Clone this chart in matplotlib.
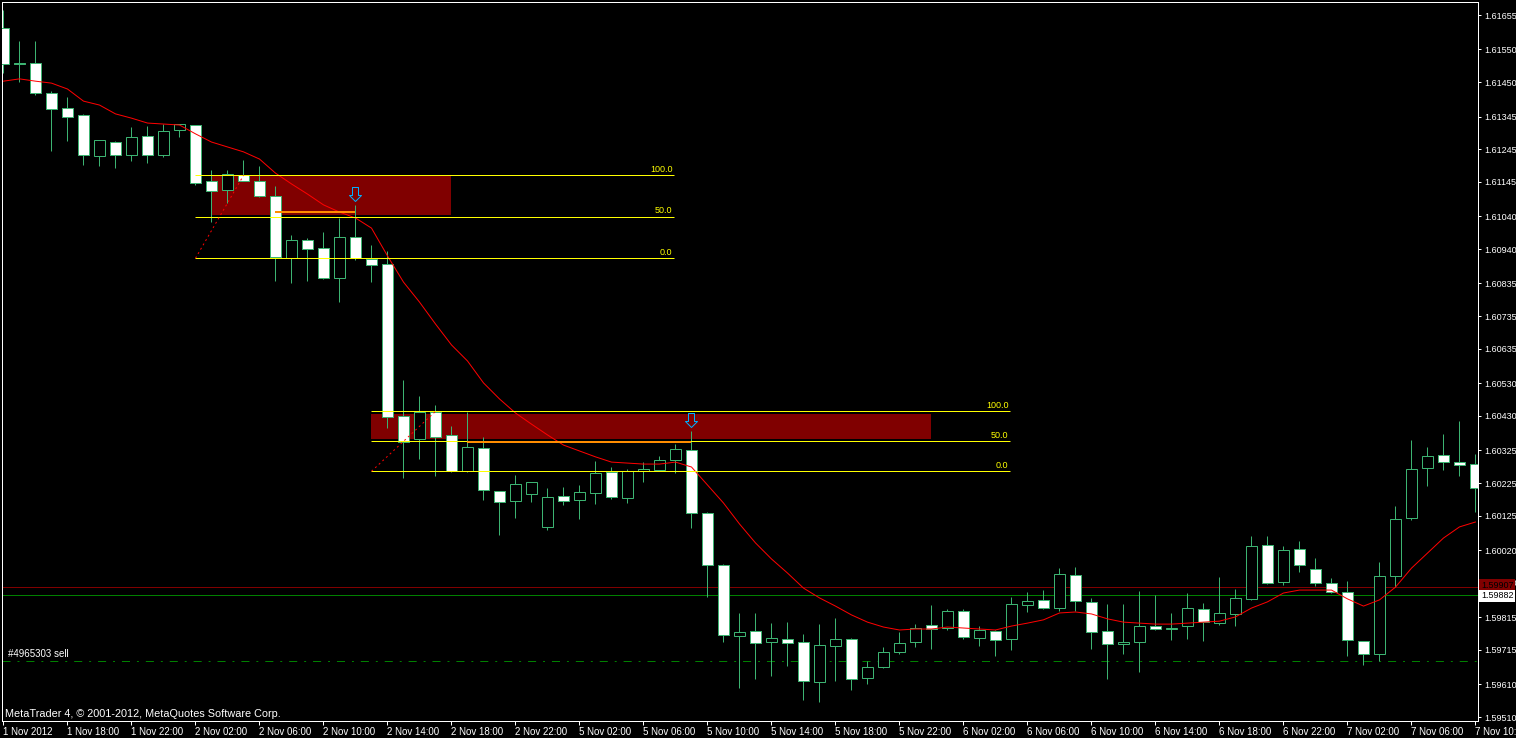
import numpy as np
import matplotlib
matplotlib.use('Agg')
import matplotlib.pyplot as plt
import matplotlib.transforms as mtransforms
from matplotlib.path import Path
from matplotlib.patches import Rectangle

plt.rcParams['font.family'] = ['Liberation Sans', 'DejaVu Sans']
plt.rcParams['lines.scale_dashes'] = False

# GBPUSD H1, 1 Nov 14:00 .. 7 Nov 10:00 (one candle per hour, weekend skipped)
opens = [1.61615, 1.61508, 1.61508, 1.61417, 1.61371, 1.61350, 1.61224, 1.61267, 1.61227, 1.61285,
         1.61227, 1.61304, 1.61319, 1.61148, 1.61120, 1.61166, 1.61148, 1.61102, 1.60913, 1.60968,
         1.60943, 1.60852, 1.60977, 1.60910, 1.60894, 1.60430, 1.60360, 1.60442, 1.60372, 1.60262,
         1.60332, 1.60201, 1.60170, 1.60192, 1.60091, 1.60185, 1.60173, 1.60195, 1.60259, 1.60179,
         1.60262, 1.60265, 1.60295, 1.60326, 1.60133, 1.59975, 1.59758, 1.59773, 1.59739, 1.59749,
         1.59739, 1.59617, 1.59727, 1.59749, 1.59629, 1.59663, 1.59709, 1.59739, 1.59791, 1.59782,
         1.59834, 1.59752, 1.59773, 1.59749, 1.59852, 1.59868, 1.59843, 1.59944, 1.59862, 1.59773,
         1.59733, 1.59739, 1.59788, 1.59779, 1.59788, 1.59840, 1.59797, 1.59825, 1.59871, 1.60036,
         1.59923, 1.60023, 1.59962, 1.59920, 1.59892, 1.59742, 1.59703, 1.59941, 1.60118, 1.60271,
         1.60311, 1.60289, 1.60283]
highs = [1.61670, 1.61576, 1.61576, 1.61423, 1.61405, 1.61353, 1.61273, 1.61270, 1.61313, 1.61316,
         1.61322, 1.61322, 1.61319, 1.61182, 1.61182, 1.61212, 1.61194, 1.61133, 1.60983, 1.60974,
         1.60992, 1.61035, 1.61075, 1.60952, 1.60934, 1.60540, 1.60491, 1.60463, 1.60399, 1.60442,
         1.60366, 1.60201, 1.60250, 1.60228, 1.60210, 1.60213, 1.60219, 1.60292, 1.60274, 1.60268,
         1.60289, 1.60308, 1.60344, 1.60384, 1.60137, 1.59978, 1.59828, 1.59828, 1.59797, 1.59800,
         1.59764, 1.59794, 1.59813, 1.59752, 1.59681, 1.59724, 1.59770, 1.59794, 1.59852, 1.59840,
         1.59840, 1.59788, 1.59776, 1.59877, 1.59892, 1.59898, 1.59965, 1.59968, 1.59874, 1.59855,
         1.59855, 1.59895, 1.59883, 1.59828, 1.59889, 1.59858, 1.59938, 1.59901, 1.60063, 1.60063,
         1.60033, 1.60048, 1.59996, 1.59935, 1.59926, 1.59742, 1.59984, 1.60155, 1.60357, 1.60335,
         1.60375, 1.60415, 1.60314]
lows = [1.61478, 1.61450, 1.61411, 1.61240, 1.61270, 1.61197, 1.61194, 1.61188, 1.61209, 1.61203,
        1.61221, 1.61282, 1.61136, 1.61023, 1.61081, 1.61148, 1.61099, 1.60842, 1.60836, 1.60842,
        1.60848, 1.60778, 1.60907, 1.60839, 1.60393, 1.60240, 1.60298, 1.60247, 1.60259, 1.60259,
        1.60173, 1.60066, 1.60118, 1.60167, 1.60082, 1.60158, 1.60115, 1.60161, 1.60176, 1.60164,
        1.60228, 1.60262, 1.60256, 1.60088, 1.59877, 1.59739, 1.59599, 1.59626, 1.59635, 1.59666,
        1.59562, 1.59556, 1.59620, 1.59593, 1.59611, 1.59660, 1.59703, 1.59724, 1.59718, 1.59776,
        1.59749, 1.59727, 1.59697, 1.59715, 1.59831, 1.59840, 1.59834, 1.59834, 1.59718, 1.59626,
        1.59703, 1.59648, 1.59776, 1.59745, 1.59749, 1.59742, 1.59791, 1.59788, 1.59868, 1.59917,
        1.59913, 1.59953, 1.59910, 1.59889, 1.59697, 1.59669, 1.59681, 1.59907, 1.60112, 1.60216,
        1.60265, 1.60247, 1.60137]
closes = [1.61505, 1.61505, 1.61417, 1.61368, 1.61343, 1.61227, 1.61273, 1.61227, 1.61282, 1.61227,
          1.61301, 1.61322, 1.61142, 1.61117, 1.61169, 1.61148, 1.61102, 1.60916, 1.60968, 1.60940,
          1.60852, 1.60977, 1.60913, 1.60891, 1.60427, 1.60350, 1.60442, 1.60366, 1.60262, 1.60335,
          1.60204, 1.60167, 1.60222, 1.60228, 1.60182, 1.60170, 1.60198, 1.60256, 1.60182, 1.60262,
          1.60268, 1.60295, 1.60329, 1.60133, 1.59975, 1.59761, 1.59770, 1.59736, 1.59752, 1.59736,
          1.59620, 1.59730, 1.59749, 1.59626, 1.59663, 1.59709, 1.59736, 1.59782, 1.59779, 1.59834,
          1.59755, 1.59776, 1.59745, 1.59855, 1.59865, 1.59843, 1.59947, 1.59865, 1.59770, 1.59733,
          1.59739, 1.59788, 1.59779, 1.59782, 1.59843, 1.59800, 1.59828, 1.59874, 1.60033, 1.59920,
          1.60020, 1.59975, 1.59920, 1.59892, 1.59745, 1.59703, 1.59941, 1.60115, 1.60268, 1.60308,
          1.60289, 1.60280, 1.60210]
# moving average as shown on the chart
ma = [1.61453, 1.61460, 1.61453, 1.61447, 1.61429, 1.61392, 1.61380, 1.61353, 1.61340, 1.61325,
      1.61322, 1.61319, 1.61292, 1.61267, 1.61252, 1.61237, 1.61215, 1.61172, 1.61139, 1.61108,
      1.61075, 1.61053, 1.61035, 1.61004, 1.60919, 1.60839, 1.60778, 1.60711, 1.60647, 1.60598,
      1.60531, 1.60482, 1.60439, 1.60405, 1.60372, 1.60341, 1.60323, 1.60305, 1.60289, 1.60286,
      1.60283, 1.60283, 1.60289, 1.60274, 1.60219, 1.60164, 1.60100, 1.60042, 1.59993, 1.59950,
      1.59904, 1.59874, 1.59849, 1.59822, 1.59800, 1.59785, 1.59776, 1.59779, 1.59779, 1.59785,
      1.59782, 1.59779, 1.59776, 1.59788, 1.59797, 1.59807, 1.59828, 1.59831, 1.59825, 1.59810,
      1.59800, 1.59797, 1.59794, 1.59794, 1.59797, 1.59800, 1.59803, 1.59816, 1.59843, 1.59862,
      1.59889, 1.59898, 1.59898, 1.59898, 1.59871, 1.59849, 1.59868, 1.59907, 1.59965, 1.60011,
      1.60057, 1.60091, 1.60106]

tick_idx = list(range(0, 93, 4))
tick_labels = ['1 Nov 2012', '1 Nov 18:00', '1 Nov 22:00', '2 Nov 02:00', '2 Nov 06:00',
               '2 Nov 10:00', '2 Nov 14:00', '2 Nov 18:00', '2 Nov 22:00', '5 Nov 02:00',
               '5 Nov 06:00', '5 Nov 10:00', '5 Nov 14:00', '5 Nov 18:00', '5 Nov 22:00',
               '6 Nov 02:00', '6 Nov 06:00', '6 Nov 10:00', '6 Nov 14:00', '6 Nov 18:00',
               '6 Nov 22:00', '7 Nov 02:00', '7 Nov 06:00', '7 Nov 10:00']
price_ticks = [1.61655, 1.61550, 1.61450, 1.61345, 1.61245, 1.61145, 1.61040, 1.60940,
               1.60835, 1.60735, 1.60635, 1.60530, 1.60430, 1.60325, 1.60225, 1.60125,
               1.60020, 1.59920, 1.59815, 1.59715, 1.59610, 1.59510]

# fibonacci objects: (start idx, end idx, level 0 price, level 100 price)
fib_x0 = [12, 23]
fib_x1 = [41.9, 62.9]
fib_p0 = [1.60912, 1.60261]
fib_p100 = [1.61165, 1.60444]
fib_anchor_end = [15, 27]
# zones (rectangles)
zone_x0 = [13, 23]
zone_x1 = [28, 58]
zone_lo = [1.61044, 1.60360]
zone_hi = [1.61163, 1.60436]
# orange entry lines
entry_x0 = [17, 29]
entry_x1 = [22, 43]
entry_p = [1.61053, 1.60350]
# sell arrows on candles
arrow_idx = [22, 43]

ask_price = 1.59907
bid_price = 1.59882
sell_price = 1.59681

W, H = 1516, 738
px = 0.72  # one pixel in points
green = '#3CB371'

opens = np.array(opens); highs = np.array(highs)
lows = np.array(lows); closes = np.array(closes)
idx = np.arange(len(opens))

fig = plt.figure(figsize=(W / 100, H / 100), dpi=100, facecolor='black')
ax = fig.add_axes([2 / W, 17 / H, 1476 / W, 719 / H], facecolor='black')
ax.set_xlim((2 - 3.5) / 16, (1478 - 3.5) / 16)
ax.set_ylim(1.594979, 1.616949)

# zones behind candles
for x0, x1, lo, hi in zip(zone_x0, zone_x1, zone_lo, zone_hi):
    ax.add_patch(Rectangle((x0, lo), x1 - x0, hi - lo, facecolor='#800000',
                           edgecolor='none', zorder=1))

ax.axhline(ask_price, color='#800000', lw=px, zorder=1.5)
ax.axhline(bid_price, color='#008000', lw=px, zorder=1.5)
ax.axhline(sell_price, color='#008000', lw=px, ls=(0, (5.8, 5, 1.4, 5)), zorder=1.5)

# candles
up = closes >= opens
ax.vlines(idx, lows, highs, color=green, lw=px, zorder=2)
ax.bar(idx, np.abs(closes - opens), width=0.66, bottom=np.minimum(opens, closes),
       color=np.where(up, 'black', 'white'), edgecolor=green, linewidth=px, zorder=3)

ax.plot(idx, ma, color='red', lw=px, zorder=4)

# fibonacci retracements
for x0, x1, p0, p100, xe in zip(fib_x0, fib_x1, fib_p0, fib_p100, fib_anchor_end):
    levels = [(p0, '0.0'), ((p0 + p100) / 2, '50.0'), (p100, '100.0')]
    for p, lab in levels:
        ax.hlines(p, x0, x1, color='yellow', lw=px, zorder=5)
        ax.annotate(lab, xy=(x1, p), xytext=(-1, 1), textcoords='offset points',
                    ha='right', va='bottom', color='yellow', fontsize=6.5, zorder=6)
    ax.plot([x0, xe], [p0, p100], color='red', lw=px, ls=(0, (1.4, 2.2)), zorder=5)

for x0, x1, p in zip(entry_x0, entry_x1, entry_p):
    ax.hlines(p, x0, x1, color='#FF8C00', lw=2 * px, zorder=5)

# hollow down arrow marker, origin sits at the candle high
arrow_path = Path([(-3, 18), (3, 18), (3, 10), (6, 10), (0, 4), (-6, 10), (-3, 10), (-3, 18)],
                  [Path.MOVETO] + [Path.LINETO] * 6 + [Path.CLOSEPOLY])
ax.plot(arrow_idx, highs[arrow_idx], ls='none', marker=arrow_path, ms=36 * px,
        mfc='none', mec='#00B0FF', mew=px, zorder=7)

# axes styling
for s in ax.spines.values():
    s.set_color('white')
    s.set_linewidth(px)
ax.yaxis.tick_right()
ax.set_yticks(price_ticks)
ax.set_yticklabels([f'{p:.5f}' for p in price_ticks])
ax.set_xticks(tick_idx)
ax.set_xticklabels(tick_labels, ha='left')
ax.tick_params(axis='x', direction='out', length=3, width=px, colors='white',
               labelsize=7, pad=1.5)
ax.tick_params(axis='y', direction='out', length=2.5, width=px, colors='white',
               labelsize=6.5, pad=2)

blend = mtransforms.blended_transform_factory(ax.transAxes, ax.transData)
ax.annotate(f'{ask_price:.5f}', xy=(1, ask_price), xycoords=blend, xytext=(3 * px, 1.5 * px),
            textcoords='offset points', ha='left', va='center', color='black', fontsize=6.5,
            bbox=dict(facecolor='#800000', edgecolor='none', pad=1.2),
            annotation_clip=False, zorder=10)
ax.annotate(f'{bid_price:.5f}', xy=(1, bid_price), xycoords=blend, xytext=(3 * px, -0.5 * px),
            textcoords='offset points', ha='left', va='center', color='black', fontsize=6.5,
            bbox=dict(facecolor='white', edgecolor='none', pad=1.2),
            annotation_clip=False, zorder=10)

ax.annotate('#4965303 sell', xy=(6 / 1476, sell_price), xycoords=blend, xytext=(0, 1.5),
            textcoords='offset points', ha='left', va='bottom', color='white', fontsize=7,
            zorder=8)
fig.text(5 / W, (H - 717) / H, 'MetaTrader 4, © 2001-2012, MetaQuotes Software Corp.',
         ha='left', va='baseline', color='white', fontsize=7.8)

fig.savefig('out.png', dpi=100, facecolor='black')
